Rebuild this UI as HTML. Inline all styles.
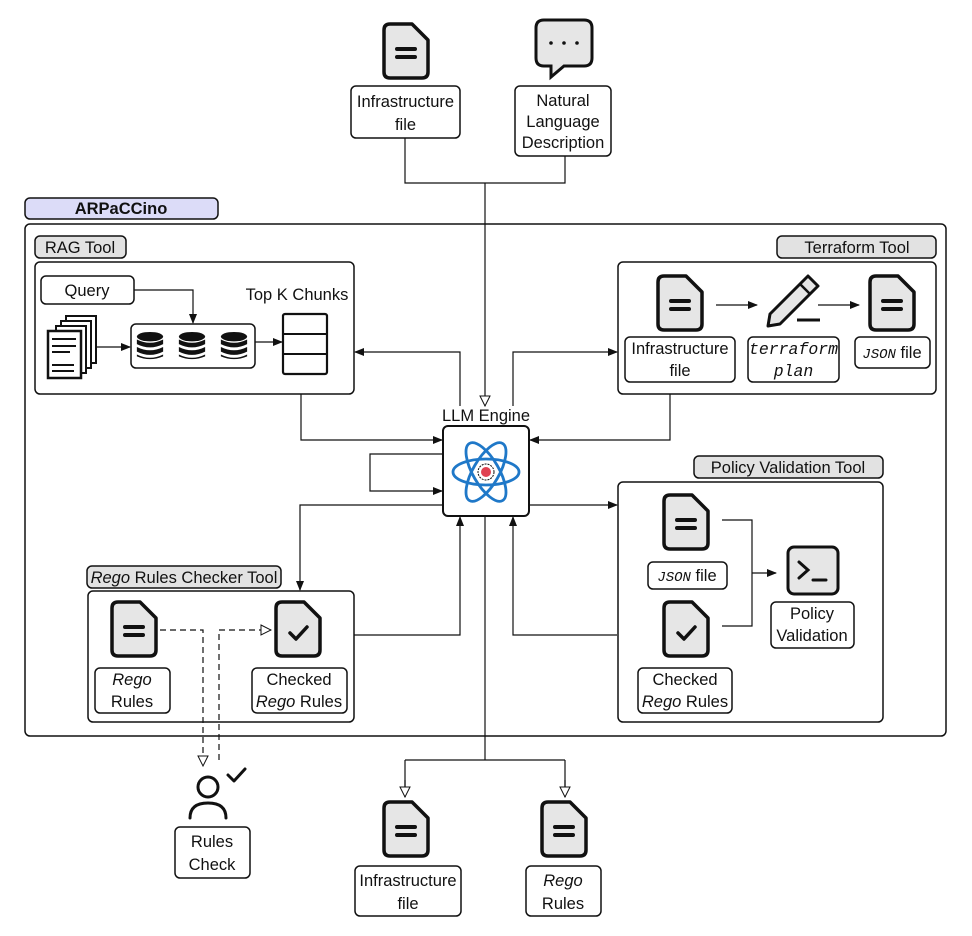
<!DOCTYPE html>
<html><head><meta charset="utf-8"><style>
html,body{margin:0;padding:0;background:#fff;}
svg{display:block;font-family:"Liberation Sans",sans-serif;}
text{font-size:16.5px;fill:#111;}
.mono{font-family:"Liberation Mono",monospace;font-style:italic;}
</style></head><body>
<svg width="972" height="936" viewBox="0 0 972 936" xmlns="http://www.w3.org/2000/svg">
<defs>
<symbol id="doc" viewBox="0 0 48 58">
<path d="M8 2 H30 L46 18 V50 Q46 56 40 56 H8 Q2 56 2 50 V8 Q2 2 8 2 Z" fill="#e6e6e6" stroke="#111" stroke-width="3.5" stroke-linejoin="round"/>
<path d="M15 27 H33 M15 35 H33" stroke="#111" stroke-width="4" stroke-linecap="round"/>
</symbol>
<symbol id="cdoc" viewBox="0 0 48 58">
<path d="M8 2 H30 L46 18 V50 Q46 56 40 56 H8 Q2 56 2 50 V8 Q2 2 8 2 Z" fill="#e6e6e6" stroke="#111" stroke-width="3.5" stroke-linejoin="round"/>
<path d="M16 33 L22 39 L33 27" fill="none" stroke="#111" stroke-width="3.5" stroke-linecap="round" stroke-linejoin="round"/>
</symbol>
<symbol id="db" viewBox="0 0 32 32">
<ellipse cx="16" cy="6" rx="14" ry="5" fill="#111"/>
<path d="M2 9 Q16 16 30 9 V14 Q16 21 2 14Z M2 17 Q16 24 30 17 V22 Q16 29 2 22Z M2 25 Q16 32 30 25 V27 Q16 33 2 27Z" fill="#111"/>
</symbol>
<marker id="a" markerWidth="10" markerHeight="10" refX="9" refY="5" orient="auto" markerUnits="userSpaceOnUse"><path d="M0 1 L10 5 L0 9Z" fill="#111"/></marker>
<marker id="o" markerWidth="12" markerHeight="12" refX="11" refY="6" orient="auto" markerUnits="userSpaceOnUse"><path d="M1 1 L11 6 L1 11Z" fill="#fff" stroke="#111"/></marker>
</defs>
<g fill="none" stroke="#111" stroke-width="1.2">
<path d="M405 138 V183 H565 V156"/>
<path d="M485 183 V406" marker-end="url(#o)"/>
<path d="M460 406 V352 H355" marker-end="url(#a)"/>
<path d="M513 406 V352 H617" marker-end="url(#a)"/>
<path d="M301 394 V440 H442" marker-end="url(#a)"/>
<path d="M670 394 V440 H530" marker-end="url(#a)"/>
<path d="M443 454 H370 V491 H442" marker-end="url(#a)"/>
<path d="M443 505 H300 V590" marker-end="url(#a)"/>
<path d="M529 505 H617" marker-end="url(#a)"/>
<path d="M354 635 H460 V517" marker-end="url(#a)"/>
<path d="M617 635 H513 V517" marker-end="url(#a)"/>
<path d="M485 516 V760 M405 760 H565 M405 760 V797 M565 760 V797"/>
<path d="M405 780 V797" marker-end="url(#o)"/>
<path d="M565 780 V797" marker-end="url(#o)"/>
<path d="M134 290 H193 V323" marker-end="url(#a)"/>
<path d="M97 347 H130" marker-end="url(#a)"/>
<path d="M255 342 H282" marker-end="url(#a)"/>
<path d="M716 305 H757" marker-end="url(#a)"/>
<path d="M818 305 H859" marker-end="url(#a)"/>
<path d="M722 520 H752 V626 H722"/>
<path d="M752 573 H776" marker-end="url(#a)"/>
<path d="M160 630 H203 V766" stroke-dasharray="6 4" marker-end="url(#o)"/>
<path d="M219 760 V630 H271" stroke-dasharray="6 4" marker-end="url(#o)"/>
</g>

<use href="#doc" x="382" y="22" width="48" height="58"/>
<path d="M544 20 H584 Q592 20 592 28 V58 Q592 66 584 66 H564 L551 77 L551 66 H544 Q536 66 536 58 V28 Q536 20 544 20Z" fill="#e6e6e6" stroke="#111" stroke-width="3"/>
<circle cx="551" cy="43" r="1.8" fill="#111"/><circle cx="564" cy="43" r="1.8" fill="#111"/><circle cx="577" cy="43" r="1.8" fill="#111"/>
<rect x="351" y="86" width="109" height="52" rx="5" fill="#fff" stroke="#111" stroke-width="1.5"/>
<text x="405.5" y="107" text-anchor="middle">Infrastructure</text><text x="405.5" y="130" text-anchor="middle">file</text>
<rect x="515" y="86" width="96" height="70" rx="5" fill="#fff" stroke="#111" stroke-width="1.5"/>
<text x="563" y="106" text-anchor="middle" font-size="15">Natural</text><text x="563" y="127" text-anchor="middle" font-size="15">Language</text><text x="563" y="148" text-anchor="middle" font-size="15">Description</text>

<rect x="25" y="198" width="193" height="21" rx="5" fill="#dcdcf8" stroke="#111" stroke-width="1.5"/>
<text x="121" y="214" text-anchor="middle" font-weight="bold" font-size="13">ARPaCCino</text>
<rect x="25" y="224" width="921" height="512" rx="5" fill="none" stroke="#111" stroke-width="1.5"/>

<rect x="35" y="236" width="91" height="22" rx="5" fill="#e2e2e2" stroke="#111" stroke-width="1.5"/>
<text x="80" y="253" text-anchor="middle">RAG Tool</text>
<rect x="35" y="262" width="319" height="132" rx="5" fill="none" stroke="#111" stroke-width="1.5"/>
<rect x="41" y="276" width="93" height="28" rx="5" fill="#fff" stroke="#111" stroke-width="1.5"/>
<text x="87" y="296" text-anchor="middle">Query</text>
<g fill="#fff" stroke="#111" stroke-width="2">
<rect x="66" y="316" width="30" height="47"/><rect x="61" y="321" width="30" height="47"/><rect x="56" y="326" width="30" height="47"/><rect x="48" y="331" width="33" height="47" stroke-width="2.5"/>
</g>
<path d="M52 339 H76 M52 346 H76 M52 352 H70 M52 365 H74 M52 371 H74" stroke="#111" stroke-width="2"/>
<rect x="131" y="324" width="124" height="44" rx="5" fill="#fff" stroke="#111" stroke-width="1.5"/>
<use href="#db" x="135" y="329" width="30" height="34"/>
<use href="#db" x="177" y="329" width="30" height="34"/>
<use href="#db" x="219" y="329" width="30" height="34"/>
<text x="297" y="300" text-anchor="middle">Top K Chunks</text>
<rect x="283" y="314" width="44" height="60" rx="2" fill="#fff" stroke="#111" stroke-width="2.2"/>
<path d="M283 334 H327 M283 354 H327" stroke="#111" stroke-width="2"/>

<rect x="777" y="236" width="159" height="22" rx="5" fill="#e2e2e2" stroke="#111" stroke-width="1.5"/>
<text x="857" y="253" text-anchor="middle">Terraform Tool</text>
<rect x="618" y="262" width="318" height="132" rx="5" fill="none" stroke="#111" stroke-width="1.5"/>
<use href="#doc" x="656" y="274" width="48" height="58"/>
<use href="#doc" x="868" y="274" width="48" height="58"/>
<path d="M808 276 L818 286 L780 324 L768 326 L770 314 Z" fill="#e6e6e6" stroke="#111" stroke-width="3" stroke-linejoin="round"/>
<path d="M800 284 L810 294" stroke="#111" stroke-width="2.5"/>
<path d="M797 320 H820" stroke="#111" stroke-width="3"/>
<rect x="625" y="337" width="110" height="45" rx="5" fill="#fff" stroke="#111" stroke-width="1.5"/>
<text x="680" y="354" text-anchor="middle">Infrastructure</text><text x="680" y="376" text-anchor="middle">file</text>
<rect x="748" y="337" width="91" height="45" rx="5" fill="#fff" stroke="#111" stroke-width="1.5"/>
<text x="793.5" y="354" text-anchor="middle" class="mono">terraform</text><text x="793.5" y="376" text-anchor="middle" class="mono">plan</text>
<rect x="855" y="337" width="75" height="31" rx="5" fill="#fff" stroke="#111" stroke-width="1.5"/>
<text x="892" y="358" text-anchor="middle"><tspan class="mono" font-size="14">JSON</tspan> file</text>

<text x="486" y="421" text-anchor="middle" font-size="13">LLM Engine</text>
<rect x="443" y="426" width="86" height="90" rx="5" fill="#fff" stroke="#111" stroke-width="2"/>
<g fill="none" stroke="#1f78c8" stroke-width="2.8">
<ellipse cx="486" cy="472" rx="33" ry="13"/>
<ellipse cx="486" cy="472" rx="33" ry="13" transform="rotate(60 486 472)"/>
<ellipse cx="486" cy="472" rx="33" ry="13" transform="rotate(-60 486 472)"/>
</g>
<circle cx="486" cy="472" r="8" fill="#fff" stroke="#111" stroke-width="1" stroke-dasharray="2 1"/>
<circle cx="486" cy="472" r="5" fill="#e04050"/>

<rect x="694" y="456" width="189" height="22" rx="5" fill="#e2e2e2" stroke="#111" stroke-width="1.5"/>
<text x="788" y="473" text-anchor="middle">Policy Validation Tool</text>
<rect x="618" y="482" width="265" height="240" rx="5" fill="none" stroke="#111" stroke-width="1.5"/>
<use href="#doc" x="662" y="493" width="48" height="58"/>
<use href="#cdoc" x="662" y="600" width="48" height="58"/>
<rect x="648" y="562" width="79" height="27" rx="5" fill="#fff" stroke="#111" stroke-width="1.5"/>
<text x="687" y="581" text-anchor="middle"><tspan class="mono" font-size="14">JSON</tspan> file</text>
<rect x="638" y="668" width="94" height="45" rx="5" fill="#fff" stroke="#111" stroke-width="1.5"/>
<text x="685" y="685" text-anchor="middle">Checked</text><text x="685" y="707" text-anchor="middle"><tspan font-style="italic">Rego</tspan> Rules</text>
<rect x="788" y="547" width="50" height="47" rx="6" fill="#e6e6e6" stroke="#111" stroke-width="3"/>
<path d="M799 562 L808 570 L799 578 M813 580 H826" fill="none" stroke="#111" stroke-width="3" stroke-linecap="round"/>
<rect x="771" y="602" width="83" height="46" rx="5" fill="#fff" stroke="#111" stroke-width="1.5"/>
<text x="812" y="619" text-anchor="middle">Policy</text><text x="812" y="641" text-anchor="middle">Validation</text>

<rect x="87" y="566" width="194" height="22" rx="5" fill="#e2e2e2" stroke="#111" stroke-width="1.5"/>
<text x="184" y="583" text-anchor="middle"><tspan font-style="italic">Rego</tspan> Rules Checker Tool</text>
<rect x="88" y="591" width="266" height="131" rx="5" fill="none" stroke="#111" stroke-width="1.5"/>
<use href="#doc" x="110" y="600" width="48" height="58"/>
<use href="#cdoc" x="274" y="600" width="48" height="58"/>
<rect x="95" y="668" width="75" height="45" rx="5" fill="#fff" stroke="#111" stroke-width="1.5"/>
<text x="132" y="685" text-anchor="middle" font-style="italic">Rego</text><text x="132" y="707" text-anchor="middle">Rules</text>
<rect x="252" y="668" width="95" height="45" rx="5" fill="#fff" stroke="#111" stroke-width="1.5"/>
<text x="299" y="685" text-anchor="middle">Checked</text><text x="299" y="707" text-anchor="middle"><tspan font-style="italic">Rego</tspan> Rules</text>

<circle cx="208" cy="787" r="10" fill="none" stroke="#111" stroke-width="3"/>
<path d="M190 818 Q190 803 208 803 Q226 803 226 818" fill="none" stroke="#111" stroke-width="3" stroke-linecap="round"/>
<path d="M228 775 L234 781 L245 769" fill="none" stroke="#111" stroke-width="3" stroke-linecap="round" stroke-linejoin="round"/>
<rect x="175" y="827" width="75" height="51" rx="5" fill="#fff" stroke="#111" stroke-width="1.5"/>
<text x="212" y="847" text-anchor="middle">Rules</text><text x="212" y="870" text-anchor="middle">Check</text>

<use href="#doc" x="382" y="800" width="48" height="58"/>
<use href="#doc" x="540" y="800" width="48" height="58"/>
<rect x="355" y="866" width="106" height="50" rx="5" fill="#fff" stroke="#111" stroke-width="1.5"/>
<text x="408" y="886" text-anchor="middle">Infrastructure</text><text x="408" y="909" text-anchor="middle">file</text>
<rect x="526" y="866" width="75" height="50" rx="5" fill="#fff" stroke="#111" stroke-width="1.5"/>
<text x="563" y="886" text-anchor="middle" font-style="italic">Rego</text><text x="563" y="909" text-anchor="middle">Rules</text>
</svg>
</body></html>
